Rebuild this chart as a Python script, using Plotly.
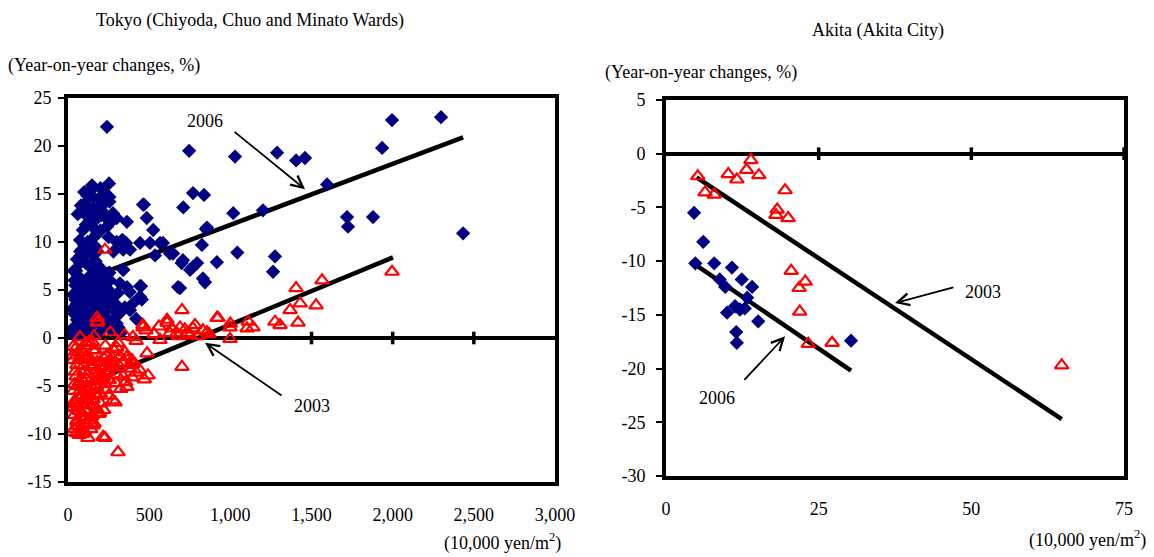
import plotly.graph_objects as go

FONT = "Liberation Serif, Times New Roman, serif"

# ---------------- Tokyo data (x: 10,000 yen/m2, y: YoY %) ----------------
tokyo06_x = [240, 746, 1029, 1288, 1405, 1460, 1596, 1996, 2298, 1935, 1719, 1725, 1879, 2434,
             710, 770, 838, 468, 1018, 1201, 485, 525, 850, 337, 340, 444, 505, 585, 536, 647,
             700, 752, 795, 825, 917, 1043, 690, 844, 1275, 1263, 340, 455, 444, 382, 310,
             148, 253, 154, 228, 216, 105, 277, 148, 92, 179, 74, 240, 363, 333, 382, 462,
             567, 628, 708, 770, 831, 678, 856, 74, 154, 123, 259, 308, 363, 444, 74, 55,
             154, 216, 320, 400, 55, 136, 259,
             140, 190, 300, 260, 205, 130, 110, 200, 160, 120, 100, 85, 140, 170, 250, 300,
             280, 357, 30, 40, 30, 90, 190, 100, 180, 210, 240, 280, 120, 60, 90, 200, 230,
             350, 300, 200, 330, 40, 110, 170, 420, 250, 380, 450, 340, 310, 60, 80, 45,
             70, 95, 115, 135, 150, 165, 185, 220, 265, 290, 35, 50, 65, 125, 175, 195,
             215, 235, 255, 270, 290, 320, 230, 160, 105, 75, 50, 140, 200, 255, 130, 170,
             25, 45, 65, 85, 105, 125, 145, 165, 185, 205, 225, 245, 265, 285,
             25, 45, 65, 85, 105, 125, 145, 165, 185, 205, 225, 245,
             35, 55, 75, 95, 115, 135, 155, 175, 195, 215, 235, 255,
             60, 80, 100, 120, 140, 160, 180]
tokyo06_y = [22.0, 19.5, 18.9, 19.3, 18.5, 18.75, 16.0, 22.7, 23.0, 19.8, 12.6, 11.6, 12.6, 10.9,
             13.6, 15.1, 14.9, 13.9, 13.0, 13.3, 12.5, 11.25, 11.35, 10.2, 9.2, 9.9, 9.9, 9.9, 8.6, 8.8,
             7.8, 7.1, 7.8, 9.7, 7.9, 8.9, 5.2, 5.8, 8.5, 6.9, 7.1, 4.0, 5.4, 2.9, 1.1,
             15.9, 16.1, 14.7, 15.1, 13.9, 14.0, 13.0, 12.3, 11.25, 10.9, 10.2, 11.6, 12.1, 10.2, 9.2, 13.9,
             9.9, 8.8, 8.1, 7.4, 6.2, 5.3, 11.5, 7.8, 7.1, 6.0, 6.0, 4.7, 5.3, 4.3, 5.0, 3.6,
             3.6, 2.9, 2.6, 3.6, 1.9, 1.6, 1.1,
             15.4, 14.5, 12.5, 12.0, 12.8, 13.2, 11.8, 11.2, 10.5, 10.0, 9.7, 9.2, 8.8, 9.5, 10.5, 10.0,
             9.0, 9.9, 4.5, 2.5, 1.0, 0.8, 0.5, 4.8, 5.5, 4.4, 3.5, 2.0, 2.5, 6.5, 5.8, 7.3, 6.6,
             3.2, 1.5, 1.8, 0.6, 6.0, 7.8, 8.0, 2.0, 5.0, 4.8, 5.4, 7.1, 1.1, 3.0, 4.2, 5.5,
             2.2, 3.3, 4.1, 5.2, 6.6, 3.0, 4.5, 1.2, 3.9, 2.8, 3.0, 0.6, 1.4, 0.9, 2.3, 3.4,
             5.6, 2.1, 6.8, 4.3, 3.6, 5.7, 12.6, 13.5, 12.9, 8.5, 7.0, 14.8, 15.6, 14.2, 6.4, 6.9,
             0.5, 1.2, 0.4, 2.0, 1.0, 0.3, 2.4, 1.6, 3.2, 2.6, 1.9, 3.0, 0.8, 3.4,
             3.0, 4.0, 3.5, 4.5, 5.8, 4.6, 5.0, 6.2, 6.8, 5.9, 5.3, 6.7,
             7.0, 8.2, 9.0, 8.5, 9.4, 10.0, 11.5, 12.4, 13.6, 14.2, 12.8, 14.7,
             12.9, 13.8, 15.2, 14.8, 11.9, 13.0, 9.0]

tokyo03_x = [228, 702, 1405, 1565, 1996, 1430, 1368, 1528, 1417, 1306, 1275, 1110, 1140, 924,
             998, 998, 702, 308, 123, 228, 290, 493, 462, 610, 690, 770, 856, 1103, 179,
             179, 74, 400, 567, 628, 733, 31, 185, 31, 154, 308, 462, 610, 782, 918, 363,
             277, 216, 154, 74, 43, 74, 55, 197, 394, 487, 671, 752, 831, 320, 340, 240,
             117, 50, 60, 80, 100, 120, 90, 130, 160, 200, 230, 250, 270, 100, 140, 180,
             60, 110, 230, 260, 350, 420, 480, 530, 560, 640, 680, 720, 800, 870, 1000,
             300, 380, 420, 470, 350, 60, 40, 90, 140, 150, 170, 200, 220, 250, 180, 45,
             35, 65, 85, 105, 125, 145, 165, 185, 205, 70, 95, 115, 135, 155, 175, 195,
             215, 235, 255, 275, 295, 325, 355, 395, 440, 30, 55, 80, 110, 130, 160,
             25, 40, 55, 70, 85, 100, 115, 130, 145, 160, 175, 190,
             25, 40, 55, 70, 85, 100, 115, 130, 145, 160, 175, 190, 205, 220, 235, 250, 265, 280,
             40, 60, 80, 100, 120, 140, 160, 180, 200, 220, 240, 260, 280, 300, 320, 340, 360, 380, 400,
             30, 50, 70, 90, 110, 130, 150, 170]
tokyo03_y = [9.2, 2.9, 5.2, 6.0, 6.9, 3.6, 2.9, 3.4, 1.6, 1.35, 1.7, 1.7, 1.1, 2.1,
             1.1, -0.1, -3.0, -11.9, -10.4, -10.4, -6.7, -3.9, 1.1, 1.6, 1.1, 1.0, 0.6, 1.0, 1.6,
             2.1, 0.1, 0.1, -0.2, 0.5, 0.5, -2.3, 1.7, -0.9, -1.25, -0.5, 1.35, 1.9, 1.35, 2.1, -5.1,
             -6.5, -10.3, -9.1, -8.2, -6.5, -5.5, -2.8, -4.0, -2.3, -1.6, 0.5, 0.3, 0.8, -3.0, -4.0, -2.6,
             -2.3, -4.0, -7.0, -9.5, -8.5, -7.5, -6.0, -5.5, -4.5, -5.8, -4.8, -3.5, -2.0, -3.5, -3.0, -2.5,
             -1.5, -0.5, -0.8, 0.6, 0.3, -0.3, 0.8, 0.4, 1.2, 1.0, 0.2, 0.9, 0.2, 0.4, 1.5,
             -3.8, -3.2, -3.6, -4.3, -1.5, -9.2, -8.0, -10.0, -9.5, -8.0, -7.2, -6.8, -7.5, -6.0, -6.0, -3.5,
             -5.5, -6.2, -7.8, -5.2, -6.6, -7.0, -5.9, -3.8, -3.0, -4.6, -2.9, -4.3, -8.3, -6.4, -4.9, -7.8,
             -4.2, -5.4, -4.4, -3.1, -4.7, -5.3, -4.6, -4.1, -3.3, -7.3, -8.8, -1.2, -1.9, -0.4, 0.2,
             -9.8, -9.5, -9.9, -10.1, -9.3, -9.7, -9.0, -8.6, -8.2, -8.9, -7.8, -7.9,
             -7.2, -6.8, -8.6, -7.6, -7.0, -6.3, -6.5, -6.0, -5.1, -5.4, -5.0, -4.5, -4.2, -4.0, -3.5, -3.1, -3.0, -2.7,
             -4.8, -5.0, -4.2, -4.6, -3.8, -2.2, -2.8, -3.3, -2.5, -2.1, -1.8, -2.4, -1.2, -1.0, -1.9, -2.6, -2.0, -2.8, -2.7,
             -1.8, -1.0, -2.2, -1.5, -2.0, -0.8, -0.4, -1.3]

tokyo_trend06_x = [43, 2434]
tokyo_trend06_y = [5.7, 20.9]
tokyo_trend03_x = [43, 2002]
tokyo_trend03_y = [-5.3, 8.4]
tokyo_cross_ticks = [1500, 2000, 2500]
tokyo_xticks = [0, 500, 1000, 1500, 2000, 2500, 3000]
tokyo_xticklabels = ["0", "500", "1,000", "1,500", "2,000", "2,500", "3,000"]
tokyo_yticks = [-15, -10, -5, 0, 5, 10, 15, 20, 25]
tokyo_yticklabels = ["-15", "-10", "-5", "0", "5", "10", "15", "20", "25"]

# ---------------- Akita data ----------------
akita06_x = [4.6, 6.1, 4.8, 7.9, 10.8, 8.8, 9.7, 12.4, 14.1, 13.3, 10.0, 11.3, 12.1, 12.9,
             15.1, 11.5, 11.6, 30.3]
akita06_y = [-5.5, -8.2, -10.2, -10.2, -10.6, -11.7, -12.4, -11.7, -12.4, -13.4, -14.8, -14.2,
             -14.5, -14.4, -15.6, -16.6, -17.6, -17.4]
akita03_x = [5.2, 6.4, 7.9, 10.2, 11.6, 13.2, 13.9, 15.2, 19.5, 18.2, 18.0, 20.0, 20.5, 21.8,
             22.8, 21.9, 23.3, 27.2, 64.8]
akita03_y = [-2.1, -3.6, -3.8, -1.9, -2.4, -1.5, -0.6, -2.0, -3.4, -5.2, -5.7, -6.0, -10.9, -12.5,
             -11.9, -14.7, -17.7, -17.6, -19.7]
akita_trend03_x = [5.0, 64.8]
akita_trend03_y = [-2.2, -24.7]
akita_trend06_x = [4.5, 30.3]
akita_trend06_y = [-10.2, -20.2]
akita_cross_ticks = [25, 50, 75]
akita_xticks = [0, 25, 50, 75]
akita_yticks = [-30, -25, -20, -15, -10, -5, 0, 5]
akita_yticklabels = ["-30", "-25", "-20", "-15", "-10", "-5", "0", "5"]

BLUE = "#000080"
RED = "#ff0000"

fig = go.Figure()

def add_panel(fig, xa, ya, x06, y06, x03, y03, tx06, ty06, tx03, ty03, crossx):
    fig.add_trace(go.Scatter(x=tx06, y=ty06, mode="lines", line=dict(color="black", width=4.5),
                             xaxis=xa, yaxis=ya, hoverinfo="skip"))
    fig.add_trace(go.Scatter(x=tx03, y=ty03, mode="lines", line=dict(color="black", width=4.5),
                             xaxis=xa, yaxis=ya, hoverinfo="skip"))
    fig.add_trace(go.Scatter(x=x06, y=y06, mode="markers", xaxis=xa, yaxis=ya,
                             marker=dict(symbol="diamond", size=11, color=BLUE,
                                         line=dict(width=0))))
    fig.add_trace(go.Scatter(x=x03, y=y03, mode="markers", xaxis=xa, yaxis=ya,
                             marker=dict(symbol="triangle-up-open", size=12, color=RED,
                                         line=dict(width=2.2, color=RED))))
    fig.add_trace(go.Scatter(x=crossx, y=[0] * len(crossx), mode="markers", xaxis=xa, yaxis=ya,
                             marker=dict(symbol="line-ns", size=9,
                                         line=dict(width=3.5, color="black")),
                             cliponaxis=False, hoverinfo="skip"))

add_panel(fig, "x", "y", tokyo06_x, tokyo06_y, tokyo03_x, tokyo03_y,
          tokyo_trend06_x, tokyo_trend06_y, tokyo_trend03_x, tokyo_trend03_y, tokyo_cross_ticks)
add_panel(fig, "x2", "y2", akita06_x, akita06_y, akita03_x, akita03_y,
          akita_trend06_x, akita_trend06_y, akita_trend03_x, akita_trend03_y, akita_cross_ticks)

W, H = 1154, 557
tick_font = dict(family=FONT, size=18, color="black")

axis_common = dict(showline=True, mirror=True, linewidth=4, linecolor="black",
                   showgrid=False, tickfont=tick_font, automargin=False)

fig.update_layout(
    width=W, height=H, showlegend=False,
    margin=dict(l=0, r=0, t=0, b=0, autoexpand=False),
    paper_bgcolor="white", plot_bgcolor="white",
    font=dict(family=FONT, size=18, color="black"),
    xaxis=dict(domain=[68 / W, 555 / W], range=[0, 3000], tickvals=tokyo_xticks,
               ticktext=tokyo_xticklabels,
               ticks="", ticklabelstandoff=13, zeroline=False, anchor="y", **axis_common),
    yaxis=dict(domain=[1 - 482 / H, 1 - 98 / H], range=[-15, 25], tickvals=tokyo_yticks,
               ticktext=tokyo_yticklabels,
               ticks="outside", ticklen=6, tickwidth=1.5, tickcolor="black", ticklabelstandoff=3,
               zeroline=True, zerolinewidth=3.5, zerolinecolor="black", anchor="x", **axis_common),
    xaxis2=dict(domain=[666 / W, 1124 / W], range=[0, 75], tickvals=akita_xticks,
                ticks="", ticklabelstandoff=13, zeroline=False, anchor="y2", **axis_common),
    yaxis2=dict(domain=[1 - 476 / H, 1 - 100 / H], range=[-30, 5], tickvals=akita_yticks,
                ticktext=akita_yticklabels,
                ticks="outside", ticklen=6, tickwidth=1.5, tickcolor="black", ticklabelstandoff=7,
                zeroline=True, zerolinewidth=3.5, zerolinecolor="black", anchor="x2", **axis_common),
)

ann = []
txt = dict(family=FONT, size=18, color="black")
# Titles and unit labels
ann.append(dict(text="Tokyo (Chiyoda, Chuo and Minato Wards)", x=250 / W, y=1 - 20 / H, xref="paper",
                yref="paper", showarrow=False, font=txt, xanchor="center", yanchor="middle"))
ann.append(dict(text="Akita (Akita City)", x=878 / W, y=1 - 31 / H, xref="paper",
                yref="paper", showarrow=False, font=txt, xanchor="center", yanchor="middle"))
ann.append(dict(text="(Year-on-year changes, %)", x=6 / W, y=1 - 66 / H, xref="paper",
                yref="paper", showarrow=False, font=txt, xanchor="left", yanchor="middle"))
ann.append(dict(text="(Year-on-year changes, %)", x=603 / W, y=1 - 72 / H, xref="paper",
                yref="paper", showarrow=False, font=txt, xanchor="left", yanchor="middle"))
ann.append(dict(text="(10,000 yen/m<sup>2</sup>)", x=563 / W, y=1 - 542 / H, xref="paper",
                yref="paper", showarrow=False, font=txt, xanchor="right", yanchor="middle"))
ann.append(dict(text="(10,000 yen/m<sup>2</sup>)", x=1148 / W, y=1 - 539 / H, xref="paper",
                yref="paper", showarrow=False, font=txt, xanchor="right", yanchor="middle"))

# Series labels with arrows
def label(text, x, y, xr, yr):
    ann.append(dict(text=text, x=x, y=y, xref=xr, yref=yr, showarrow=False, font=txt,
                    xanchor="center", yanchor="middle"))

def arrow(x, y, ax, ay, xr, yr):
    ann.append(dict(text="", x=x, y=y, ax=ax, ay=ay, xref=xr, yref=yr, axref=xr, ayref=yr,
                    showarrow=True, arrowhead=5, arrowsize=1.3, arrowwidth=1.8, arrowcolor="black"))

label("2006", 844, 22.6, "x", "y")
arrow(1460, 15.5, 1017, 21.6, "x", "y")
label("2003", 1503, -7.1, "x", "y")
arrow(844, -0.5, 1325, -6.1, "x", "y")
label("2003", 51.9, -12.9, "x2", "y2")
arrow(37.5, -13.9, 47.3, -12.4, "x2", "y2")
label("2006", 8.4, -22.7, "x2", "y2")
arrow(19.5, -17.0, 12.6, -21.2, "x2", "y2")

fig.update_layout(annotations=ann)
fig.write_html("out.html", config={"displayModeBar": False},
               post_script="document.body.style.margin='0px';document.body.style.overflow='hidden';")
